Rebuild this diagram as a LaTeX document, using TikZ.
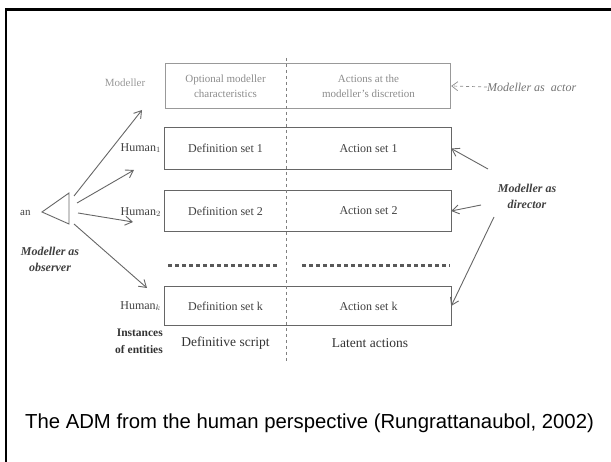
\documentclass[tikz,border=0pt]{standalone}
\usepackage{fontspec}
\setmainfont{Liberation Serif}
\newfontfamily\capfont{Liberation Sans}
\usetikzlibrary{arrows.meta}
\begin{document}
\begin{tikzpicture}[x=1pt,y=-1pt,
  cell/.style={inner sep=0pt, minimum height=#1, text=black!75, font=\fontsize{12}{14}\selectfont},
  lcell/.style={minimum width=121pt},
  rcell/.style={minimum width=165pt},
  rowbox/.style={draw=black!60, line width=1.1pt},
  topbox/.style={draw=black!40, double, double distance=1.3pt, line width=0.6pt},
  toptext/.style={text=black!45, align=center, font=\fontsize{11}{15}\selectfont},
  humanlab/.style={anchor=east, inner sep=0pt, text=black!75, font=\fontsize{12}{14}\selectfont},
  rolelab/.style={align=center, text=black!75, font=\fontsize{12}{16}\selectfont\bfseries\itshape},
  divider/.style={draw=black!50, dashed, line width=0.6pt},
  dotrow/.style={draw=black!65, line width=3pt, dash pattern=on 3.5pt off 3.5pt},
  viewarrow/.style={draw=black!60, line width=0.9pt, -{Straight Barb[length=7pt,width=9pt]}},
  actorarrow/.style={draw=black!45, line width=0.7pt, dashed, -{Straight Barb[length=6pt,width=9pt]}},
  bottomlab/.style={text=black!80, font=\fontsize{13.5}{16}\selectfont}]
\useasboundingbox (0,0) rectangle (611,462);
% frame
\draw[line width=2.4pt] (6.2,462) -- (6.2,9.5) -- (611,9.5);

% top row (modeller)
\node[cell=46pt, lcell, toptext] (t1) at (225.5,86) {Optional modeller\\characteristics};
\node[cell=46pt, rcell, toptext] (t2) at (368.5,86) {Actions at the\\modeller's discretion};
\draw[topbox] (t1.north west) rectangle (t2.south east);

% rows
\node[cell=41pt, lcell] (d1) at (225.5,148.5) {Definition set 1};
\node[cell=41pt, rcell] (a1) at (368.5,148.5) {Action set 1};
\draw[rowbox] (d1.north west) rectangle (a1.south east);

\node[cell=40pt, lcell] (d2) at (225.5,211) {Definition set 2};
\node[cell=40pt, rcell] (a2) at (368.5,211) {Action set 2};
\draw[rowbox] (d2.north west) rectangle (a2.south east);

\node[cell=38pt, lcell] (dk) at (225.5,306) {Definition set k};
\node[cell=38pt, rcell] (ak) at (368.5,306) {Action set k};
\draw[rowbox] (dk.north west) rectangle (ak.south east);

% divider
\coordinate (divtop) at (286,58);
\coordinate (divbot) at (286,362);
\draw[divider] (divtop) -- (divbot);

% dotted rows
\coordinate (dl1) at (168,266); \coordinate (dl2) at (278,266);
\coordinate (dr1) at (302,266); \coordinate (dr2) at (450,266);
\draw[dotrow] (dl1) -- (dl2);
\draw[dotrow] (dr1) -- (dr2);

% left labels
\node[text=black!40, font=\fontsize{11}{13}\selectfont] (mod) at (125,83) {Modeller};
\node[humanlab] (h1) at (161,148) {Human$_1$};
\node[humanlab] (h2) at (161,212) {Human$_2$};
\node[humanlab] (hk) at (161,306) {Human$_k$};

% bottom labels
\node[anchor=east, align=right, inner sep=0pt, text=black!80, font=\fontsize{11.5}{17}\selectfont\bfseries] (inst) at (163,341) {Instances\\of entities};
\node[bottomlab] (defs) at (225.5,343) {Definitive script};
\node[bottomlab] (lat) at (370,343) {Latent actions};

% observer
\node[anchor=west, inner sep=0pt, text=black!75, font=\fontsize{11}{13}\selectfont] (an) at (20,213) {an};
\coordinate (eyeA) at (42,212);
\coordinate (eyeB) at (69,193);
\coordinate (eyeC) at (69,224);
\draw[black!60, line width=0.9pt] (eyeA) -- (eyeB) -- (eyeC) -- cycle;
\node[rolelab] (obs) at (50,259) {Modeller as\\observer};
\coordinate (o1) at (74,196); \coordinate (m1) at (142,110);
\coordinate (o2) at (77,203); \coordinate (m2) at (134,170);
\coordinate (o3) at (78,213); \coordinate (m3) at (133,222);
\coordinate (o4) at (74,224); \coordinate (m4) at (147,288);
\draw[viewarrow] (o1) -- (m1);
\draw[viewarrow] (o2) -- (m2);
\draw[viewarrow] (o3) -- (m3);
\draw[viewarrow] (o4) -- (m4);

% director
\node[rolelab] (dir) at (527,196) {Modeller as\\director};
\coordinate (s1) at (488,169);
\coordinate (s2) at (481,205);
\coordinate (s3) at (494,217);
\draw[viewarrow] (s1) -- (a1.east);
\draw[viewarrow] (s2) -- (a2.east);
\draw[viewarrow] (s3) -- (ak.east);

% actor
\node[anchor=west, inner sep=0pt, text=black!55, font=\fontsize{12}{14}\selectfont\itshape] (actor) at (487,87) {Modeller as~~actor};
\draw[actorarrow] (actor.west) -- (t2.east);

% caption
\node[anchor=west, inner sep=0pt, font=\capfont\fontsize{20.3}{24}\selectfont] (cap) at (25,423) {The ADM from the human perspective (Rungrattanaubol, 2002)};
\end{tikzpicture}
\end{document}
